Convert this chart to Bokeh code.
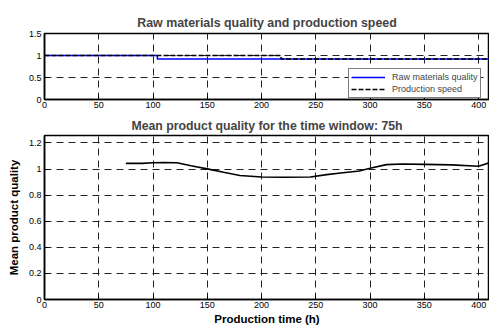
from bokeh.plotting import figure
from bokeh.layouts import column
from bokeh.models import FixedTicker, CustomJSTickFormatter, Legend, LegendItem
from bokeh.embed import file_html
from bokeh.resources import INLINE

# ---- data ----
raw_x = [0, 104, 410]
raw_y = [1.0, 0.92, 0.92]
speed_x = [0, 218, 410]
speed_y = [1.0, 0.92, 0.92]

mq_x = [75, 90, 100, 110, 122, 135, 150, 165, 180, 200, 220, 245, 260, 275, 290, 300, 315, 330, 350, 375, 400, 410]
mq_y = [1.043, 1.043, 1.048, 1.05, 1.048, 1.025, 1.001, 0.975, 0.951, 0.939, 0.937, 0.939, 0.957, 0.971, 0.985, 1.006,
        1.034, 1.039, 1.036, 1.032, 1.021, 1.049]

x_ticks = [0, 50, 100, 150, 200, 250, 300, 350, 400]
y1_ticks = [0, 0.5, 1.0, 1.5]
y2_ticks = [0, 0.2, 0.4, 0.6, 0.8, 1.0, 1.2]

FONT = "Liberation Sans"
fmt = "return Number(tick.toFixed(2)).toString();"


def style(p, yticks, title_size):
    p.outline_line_color = "black"
    p.outline_line_width = 1.5
    p.background_fill_color = "white"
    p.border_fill_color = "white"
    p.title.text_font = FONT
    p.title.text_font_size = title_size
    p.title.text_font_style = "bold"
    p.title.align = "center"
    for ax in (p.xaxis[0], p.yaxis[0]):
        ax.major_tick_in = 4
        ax.major_tick_out = 0
        ax.minor_tick_line_color = None
        ax.axis_line_color = "black"
        ax.axis_line_width = 1.5
        ax.major_tick_line_color = "black"
        ax.major_label_text_font = FONT
        ax.major_label_text_font_size = "9px"
        ax.major_label_text_color = "black"
        ax.axis_label_text_font = FONT
        ax.axis_label_text_font_size = "11.5px"
        ax.axis_label_text_font_style = "bold"
        ax.axis_label_text_color = "black"
    p.xaxis[0].ticker = FixedTicker(ticks=x_ticks)
    p.yaxis[0].ticker = FixedTicker(ticks=yticks)
    p.yaxis[0].formatter = CustomJSTickFormatter(code=fmt)
    p.xaxis[0].major_label_standoff = 2
    p.yaxis[0].major_label_standoff = 3
    for g in (p.xgrid[0], p.ygrid[0]):
        g.grid_line_color = "#222222"
        g.grid_line_dash = "7 5"
        g.grid_line_width = 1
        g.grid_line_alpha = 1.0


W = 489
p1 = figure(width=W, height=113, x_range=(0, 410), y_range=(0, 1.5),
            output_backend="svg", toolbar_location=None,
            title="Raw materials quality and production speed",
            min_border_left=44, min_border_right=0, min_border_top=33, min_border_bottom=14)
style(p1, y1_ticks, "12.4px")
p1.title.standoff = 8
r1 = p1.step(raw_x, raw_y, mode="after", line_color="#0000FF", line_width=1.6)
r2 = p1.step(speed_x, speed_y, mode="after", line_color="black", line_width=1.6, line_dash="5 2")
leg = Legend(items=[LegendItem(label="Raw materials quality", renderers=[r1]),
                    LegendItem(label="Production speed", renderers=[r2])],
             location=(304, 1), orientation="vertical")
leg.label_text_font = FONT
leg.label_text_font_size = "9px"
leg.label_height = 12
leg.glyph_height = 12
leg.glyph_width = 34
leg.label_standoff = 7
leg.spacing = 0
leg.padding = 2
leg.margin = 0
leg.border_line_color = "black"
leg.border_line_width = 1.5
leg.background_fill_color = "white"
leg.background_fill_alpha = 1
p1.add_layout(leg, "center")

p2 = figure(width=W, height=214, x_range=(0, 410), y_range=(0, 1.257),
            output_backend="svg", toolbar_location=None,
            title="Mean product quality for the time window: 75h",
            min_border_left=44, min_border_right=0, min_border_top=21, min_border_bottom=25)
style(p2, y2_ticks, "12.3px")
p2.title.standoff = 6
p2.xaxis[0].axis_label = "Production time (h)"
p2.yaxis[0].axis_label = "Mean product quality"
p2.xaxis[0].axis_label_standoff = 2
p2.yaxis[0].axis_label_standoff = 6
p2.line(mq_x, mq_y, line_color="black", line_width=1.6)

layout = column(p1, p2, spacing=0)
open("out.html", "w").write(file_html(layout, INLINE))
